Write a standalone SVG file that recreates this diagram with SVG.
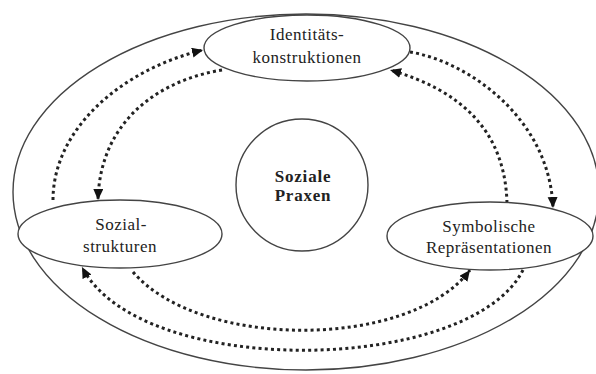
<svg xmlns="http://www.w3.org/2000/svg" width="596" height="374" viewBox="0 0 596 374">
<defs>
<style>
.shape{fill:#fff;stroke:#444;stroke-width:1.4}
.outer{fill:none;stroke:#444;stroke-width:1.4}
.lbl{font-family:"Liberation Serif","Times New Roman",serif;font-size:17px;letter-spacing:0.5px;fill:#222;text-anchor:middle}
.bold{font-weight:bold;letter-spacing:0.8px}
.dot{fill:none;stroke:#222;stroke-width:3;stroke-dasharray:3 3.2;marker-end:url(#arr)}
</style>
<marker id="arr" markerUnits="userSpaceOnUse" markerWidth="12" markerHeight="11" refX="11" refY="5" orient="auto">
<path d="M0,0 L11,5 L0,10 z" fill="#111"/>
</marker>
</defs>
<ellipse class="outer" cx="306" cy="192" rx="293" ry="178"/>
<g id="connectors">
<path class="dot" d="M53 200 C53 130 120 70 203 50"/>
<path class="dot" d="M222 70 C160 80 100 120 98 200"/>
<path class="dot" d="M410 52 C470 62 550 120 553 208"/>
<path class="dot" d="M507 203 C505 130 460 90 390 70"/>
<path class="dot" d="M133 272 C200 350 410 350 470 270"/>
<path class="dot" d="M523 270 C470 375 140 380 82 267"/>
</g>
<g id="identitaetskonstruktionen">
<ellipse class="shape" cx="307" cy="48" rx="103" ry="33"/>
<text class="lbl" x="307" y="40">Identitäts-</text>
<text class="lbl" x="307" y="63">konstruktionen</text>
</g>
<g id="sozialstrukturen">
<ellipse class="shape" cx="120" cy="234" rx="102" ry="34"/>
<text class="lbl" x="121" y="230">Sozial-</text>
<text class="lbl" x="120" y="252">strukturen</text>
</g>
<g id="symbolische-repraesentationen">
<ellipse class="shape" cx="490" cy="236" rx="103" ry="34"/>
<text class="lbl" x="489" y="232">Symbolische</text>
<text class="lbl" x="489" y="253">Repräsentationen</text>
</g>
<g id="soziale-praxen">
<circle class="shape" cx="302" cy="185" r="66"/>
<text class="lbl bold" x="303" y="182">Soziale</text>
<text class="lbl bold" x="303" y="201">Praxen</text>
</g>
</svg>
